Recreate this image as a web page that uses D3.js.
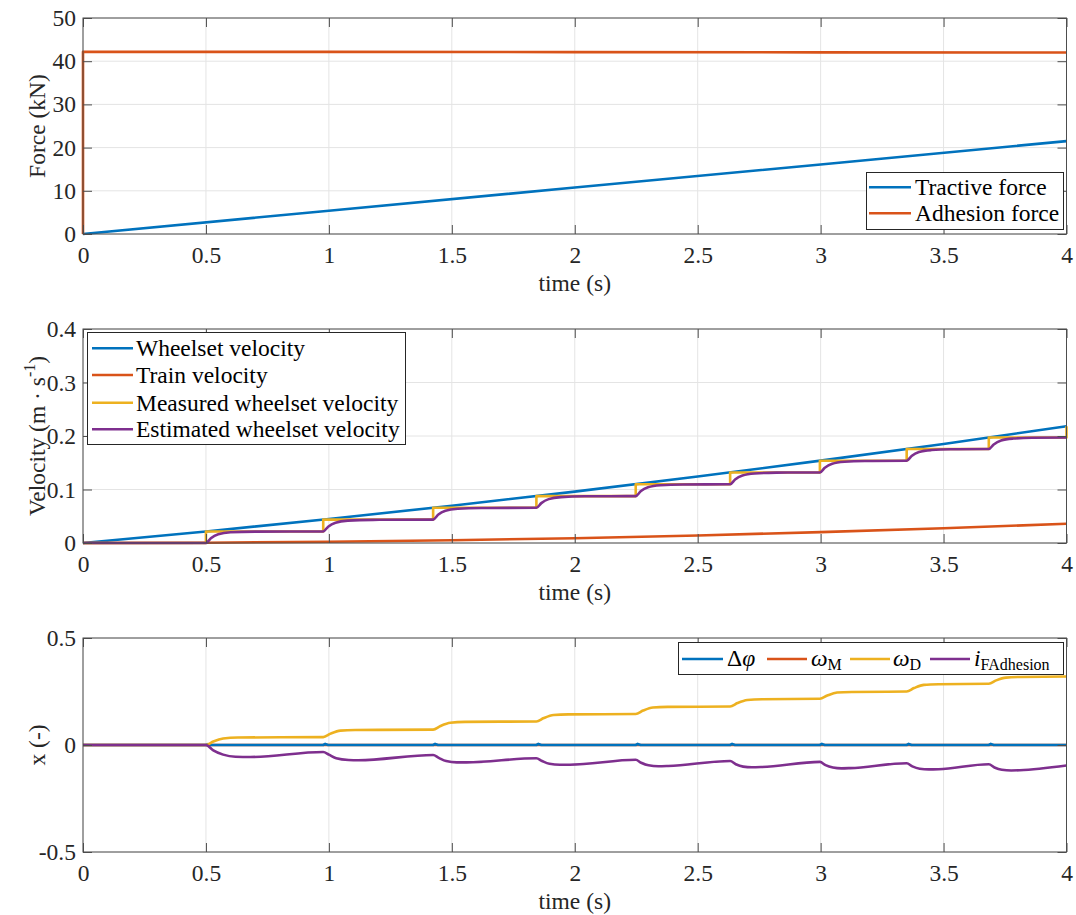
<!DOCTYPE html>
<html>
<head>
<meta charset="utf-8">
<script src="https://cdn.jsdelivr.net/npm/d3@7"></script>
<style>
  html, body { margin: 0; padding: 0; background: #ffffff; }
  svg, svg text { font-family: "Liberation Serif", "Times New Roman", serif; }
</style>
</head>
<body>
<svg id="chart" width="1076" height="915"></svg>
<script>
// ---- Tick values ----
const timeTicks = [0, 0.5, 1, 1.5, 2, 2.5, 3, 3.5, 4];
const forceTicks = [0, 10, 20, 30, 40, 50];
const velocityTicks = [0, 0.1, 0.2, 0.3, 0.4];
const stateTicks = [-0.5, 0, 0.5];

// ---- Panel 1: forces (kN) ----
const tractiveT = [0, 1, 2, 3, 4];
const tractiveF = [0, 5.4, 10.75, 16.1, 21.5];
const adhesionT = [0, 0, 1, 2, 3, 4];
const adhesionF = [0, 42.2, 42.15, 42.1, 42.05, 42.0];

// ---- Panel 2: velocities (m/s) ----
const wheelsetT = [0, 0.5, 1, 1.5, 2, 2.5, 3, 3.5, 4];
const wheelsetV = [0, 0.0216, 0.0448, 0.0697, 0.0961, 0.1242, 0.1539, 0.1852, 0.2181];
const trainT = [0, 0.5, 1, 1.5, 2, 2.5, 3, 3.5, 4];
const trainV = [0, 0.0006, 0.0023, 0.0051, 0.009, 0.0141, 0.0203, 0.0276, 0.036];
// encoder sample instants and the held measured velocity
const measuredT = [0, 0.5, 0.977, 1.424, 1.844, 2.248, 2.632, 2.997, 3.35, 3.684, 4.0];
const measuredV = [0, 0.0216, 0.0437, 0.0658, 0.0877, 0.1098, 0.1319, 0.1537, 0.1756, 0.1971, 0.2181];
const estimatedT = [0, 0.5,
  0.52, 0.55, 0.6, 0.7, 0.977,
  0.997, 1.027, 1.077, 1.18, 1.424,
  1.444, 1.474, 1.524, 1.62, 1.844,
  1.864, 1.894, 1.944, 2.04, 2.248,
  2.268, 2.298, 2.348, 2.44, 2.632,
  2.652, 2.682, 2.732, 2.82, 2.997,
  3.017, 3.047, 3.097, 3.18, 3.35,
  3.37, 3.40, 3.45, 3.53, 3.684,
  3.704, 3.734, 3.784, 3.86, 4.0];
const estimatedV = [0, 0,
  0.009, 0.0165, 0.0201, 0.0212, 0.0216,
  0.0305, 0.0380, 0.0418, 0.0433, 0.0437,
  0.0526, 0.0601, 0.0639, 0.0654, 0.0658,
  0.0745, 0.0820, 0.0858, 0.0873, 0.0877,
  0.0966, 0.1041, 0.1079, 0.1094, 0.1098,
  0.1187, 0.1262, 0.1300, 0.1315, 0.1319,
  0.1406, 0.1481, 0.1518, 0.1533, 0.1537,
  0.1625, 0.1700, 0.1737, 0.1752, 0.1756,
  0.1842, 0.1916, 0.1952, 0.1967, 0.1971];

// ---- Panel 3: observer states ----
const dphiT = [0, 0.5, 0.508, 0.52, 0.977, 0.985, 0.997, 1.424, 1.432, 1.444, 1.844, 1.852, 1.864,
  2.248, 2.256, 2.268, 2.632, 2.64, 2.652, 2.997, 3.005, 3.017, 3.35, 3.358, 3.37, 3.684, 3.692, 3.704, 4.0];
const dphiV = [0, 0, 0.004, 0, 0, 0.005, 0, 0, 0.005, 0, 0, 0.005, 0,
  0, 0.005, 0, 0, 0.005, 0, 0, 0.005, 0, 0, 0.005, 0, 0, 0.005, 0, 0];
const omegaMT = [0, 4];
const omegaMV = [0, 0];
const omegaDT = [0, 0.5,
  0.53, 0.57, 0.63, 0.977,
  1.007, 1.047, 1.107, 1.424,
  1.454, 1.494, 1.554, 1.844,
  1.874, 1.914, 1.974, 2.248,
  2.278, 2.318, 2.378, 2.632,
  2.662, 2.702, 2.762, 2.997,
  3.027, 3.067, 3.127, 3.35,
  3.38, 3.42, 3.48, 3.684,
  3.714, 3.754, 3.814, 4.0];
const omegaDV = [0, 0,
  0.016, 0.030, 0.035, 0.037,
  0.053, 0.067, 0.070, 0.072,
  0.089, 0.104, 0.108, 0.110,
  0.126, 0.140, 0.143, 0.145,
  0.161, 0.175, 0.178, 0.180,
  0.196, 0.210, 0.214, 0.216,
  0.231, 0.245, 0.248, 0.250,
  0.266, 0.281, 0.284, 0.286,
  0.302, 0.315, 0.318, 0.320];
const iAdhT = [0, 0.5,
  0.53, 0.57, 0.62, 0.68, 0.977,
  1.0, 1.03, 1.08, 1.12, 1.424,
  1.447, 1.477, 1.52, 1.56, 1.844,
  1.867, 1.897, 1.94, 1.98, 2.248,
  2.27, 2.30, 2.34, 2.38, 2.632,
  2.655, 2.685, 2.72, 2.76, 2.997,
  3.02, 3.05, 3.085, 3.12, 3.35,
  3.373, 3.403, 3.44, 3.48, 3.684,
  3.707, 3.737, 3.775, 3.81, 4.0];
const iAdhV = [0, 0,
  -0.025, -0.045, -0.055, -0.056, -0.033,
  -0.045, -0.062, -0.070, -0.071, -0.047,
  -0.060, -0.075, -0.081, -0.081, -0.062,
  -0.075, -0.088, -0.092, -0.092, -0.069,
  -0.083, -0.095, -0.099, -0.098, -0.075,
  -0.090, -0.101, -0.104, -0.103, -0.079,
  -0.094, -0.105, -0.109, -0.108, -0.085,
  -0.100, -0.111, -0.114, -0.113, -0.090,
  -0.105, -0.116, -0.119, -0.118, -0.096];

// ---- Styling ----
const COLORS = { blue: "#0072BD", orange: "#D95319", yellow: "#EDB120", purple: "#7E2F8E" };
const LW = 2.6;
const AXIS_COLOR = "#4d4d4d";
const TEXT_COLOR = "#262626";
const GRID_COLOR = "#e4e4e4";
const FONT = 23.5;
const SUB = 16;
const SERIF = "'Liberation Serif', 'Times New Roman', serif";

const svg = d3.select("#chart");
svg.append("rect").attr("width", 1076).attr("height", 915).attr("fill", "#fff");

const X0 = 83, X1 = 1066.5;
const zip = (t, v) => t.map((d, i) => [d, v[i]]);

function drawPanel(opts) {
  const { top, bottom, domain, yTicks, yFormat, id } = opts;
  const x = d3.scaleLinear().domain([0, 4]).range([X0, X1]);
  const y = d3.scaleLinear().domain(domain).range([bottom, top]);
  const g = svg.append("g");

  // grid
  g.append("g").selectAll("line").data(timeTicks).join("line")
    .attr("x1", d => x(d)).attr("x2", d => x(d)).attr("y1", top).attr("y2", bottom)
    .attr("stroke", GRID_COLOR).attr("stroke-width", 1);
  g.append("g").selectAll("line").data(yTicks).join("line")
    .attr("x1", X0).attr("x2", X1).attr("y1", d => y(d)).attr("y2", d => y(d))
    .attr("stroke", GRID_COLOR).attr("stroke-width", 1);

  // clip for data
  svg.append("clipPath").attr("id", "clip" + id)
    .append("rect").attr("x", X0 - 2).attr("y", top - 2).attr("width", X1 - X0 + 4).attr("height", bottom - top + 4);

  const lines = g.append("g").attr("clip-path", `url(#clip${id})`);
  opts.series.forEach(s => {
    const gen = d3.line().x(d => x(d[0])).y(d => y(d[1])).curve(s.curve || d3.curveLinear);
    lines.append("path").datum(s.data)
      .attr("d", gen).attr("fill", "none")
      .attr("stroke", s.color).attr("stroke-width", LW)
      .attr("stroke-linejoin", "round").attr("stroke-linecap", "butt");
  });

  // axes with inward ticks on all four sides
  const styleAxis = sel => {
    sel.attr("font-family", null).attr("font-size", null);
    sel.select(".domain").remove();
    sel.selectAll(".tick line").attr("stroke", AXIS_COLOR).attr("stroke-width", 1);
    sel.selectAll(".tick text").attr("fill", TEXT_COLOR)
      .style("font-size", FONT + "px").style("font-family", SERIF);
  };
  g.append("g").attr("transform", `translate(0,${bottom})`)
    .call(d3.axisBottom(x).tickValues(timeTicks).tickSize(-9).tickSizeOuter(0).tickPadding(12)
      .tickFormat(d3.format("~g")))
    .call(styleAxis);
  g.append("g").attr("transform", `translate(0,${top})`)
    .call(d3.axisTop(x).tickValues(timeTicks).tickSize(-9).tickSizeOuter(0).tickFormat(""))
    .call(styleAxis);
  g.append("g").attr("transform", `translate(${X0},0)`)
    .call(d3.axisLeft(y).tickValues(yTicks).tickSize(-9).tickSizeOuter(0).tickPadding(7).tickFormat(yFormat))
    .call(styleAxis);
  g.append("g").attr("transform", `translate(${X1},0)`)
    .call(d3.axisRight(y).tickValues(yTicks).tickSize(-9).tickSizeOuter(0).tickFormat(""))
    .call(styleAxis);

  // box
  g.append("rect").attr("x", X0).attr("y", top).attr("width", X1 - X0).attr("height", bottom - top)
    .attr("fill", "none").attr("stroke", AXIS_COLOR).attr("stroke-width", 1);

  // x label
  g.append("text").attr("x", (X0 + X1) / 2).attr("y", bottom + 57)
    .attr("text-anchor", "middle").style("font-size", FONT + "px").style("font-family", SERIF)
    .attr("fill", TEXT_COLOR).text("time (s)");

  return { x, y, g };
}

function yLabel(g, cy) {
  return g.append("text").attr("transform", `translate(45,${cy}) rotate(-90)`)
    .attr("text-anchor", "middle").style("font-size", FONT + "px").style("font-family", SERIF)
    .attr("fill", TEXT_COLOR);
}

// ===== Panel 1 =====
const p1 = drawPanel({
  id: 1, top: 18, bottom: 234, domain: [0, 50], yTicks: forceTicks, yFormat: d3.format("~g"),
  series: [
    { data: zip(tractiveT, tractiveF), color: COLORS.blue },
    { data: zip(adhesionT, adhesionF), color: COLORS.orange }
  ]
});
yLabel(p1.g, 126).text("Force (kN)");

// ===== Panel 2 =====
const p2 = drawPanel({
  id: 2, top: 329, bottom: 543, domain: [0, 0.4], yTicks: velocityTicks, yFormat: d3.format("~g"),
  series: [
    { data: zip(wheelsetT, wheelsetV), color: COLORS.blue },
    { data: zip(trainT, trainV), color: COLORS.orange },
    { data: zip(measuredT, measuredV), color: COLORS.yellow, curve: d3.curveStepAfter },
    { data: zip(estimatedT, estimatedV), color: COLORS.purple, curve: d3.curveMonotoneX }
  ]
});
{
  const t = yLabel(p2.g, 436);
  t.append("tspan").text("Velocity (m · s");
  t.append("tspan").style("font-size", SUB + "px").attr("dy", -10).text("-1");
  t.append("tspan").attr("dy", 10).text(")");
}

// ===== Panel 3 =====
const p3 = drawPanel({
  id: 3, top: 638, bottom: 852, domain: [-0.5, 0.5], yTicks: stateTicks,
  yFormat: d => d3.format("~g")(d).replace("\u2212", "-"),
  series: [
    { data: zip(omegaMT, omegaMV), color: COLORS.orange },
    { data: zip(dphiT, dphiV), color: COLORS.blue },
    { data: zip(omegaDT, omegaDV), color: COLORS.yellow, curve: d3.curveMonotoneX },
    { data: zip(iAdhT, iAdhV), color: COLORS.purple, curve: d3.curveMonotoneX }
  ]
});
yLabel(p3.g, 745).text("x (-)");

// ===== Legends =====
function legendBox(x, y, w, h) {
  svg.append("rect").attr("x", x + 0.5).attr("y", y + 0.5).attr("width", w).attr("height", h)
    .attr("fill", "#fff").attr("stroke", "#262626").attr("stroke-width", 1);
}
function legendLine(x1, x2, y, color) {
  svg.append("line").attr("x1", x1).attr("x2", x2).attr("y1", y).attr("y2", y)
    .attr("stroke", color).attr("stroke-width", LW);
}
function legendText(x, y, label) {
  return svg.append("text").attr("x", x).attr("y", y)
    .style("font-size", FONT + "px").style("font-family", SERIF).attr("fill", "#000").text(label);
}

// panel 1 legend
legendBox(866, 172, 197, 57);
[["Tractive force", COLORS.blue, 187.3], ["Adhesion force", COLORS.orange, 213.3]].forEach(([label, c, yy]) => {
  legendLine(869, 911, yy, c);
  legendText(915, yy + 8, label);
});

// panel 2 legend
legendBox(87, 332, 318, 112);
[["Wheelset velocity", COLORS.blue, 348.3], ["Train velocity", COLORS.orange, 375],
 ["Measured wheelset velocity", COLORS.yellow, 402.7], ["Estimated wheelset velocity", COLORS.purple, 429.3]]
  .forEach(([label, c, yy]) => {
    legendLine(92, 133, yy, c);
    legendText(136, yy + 8, label);
  });

// panel 3 legend (horizontal, math labels)
legendBox(678, 642, 385, 32);
const legY = 659;
function mathLabel(x, parts) {
  const t = svg.append("text").attr("x", x).attr("y", legY + 7)
    .style("font-size", FONT + "px").style("font-family", SERIF).attr("fill", "#000");
  parts.forEach(p => {
    const s = t.append("tspan").text(p.text);
    if (p.italic) s.style("font-style", "italic");
    if (p.sub) s.style("font-size", SUB + "px").attr("dy", 4);
  });
}
legendLine(682, 723, legY, COLORS.blue);
mathLabel(727, [{ text: "Δ" }, { text: "φ", italic: true }]);
legendLine(767, 807, legY, COLORS.orange);
mathLabel(811, [{ text: "ω", italic: true }, { text: "M", sub: true }]);
legendLine(850, 890, legY, COLORS.yellow);
mathLabel(893, [{ text: "ω", italic: true }, { text: "D", sub: true }]);
legendLine(930, 970, legY, COLORS.purple);
mathLabel(974, [{ text: "i", italic: true }, { text: "FAdhesion", sub: true }]);
</script>
</body>
</html>
